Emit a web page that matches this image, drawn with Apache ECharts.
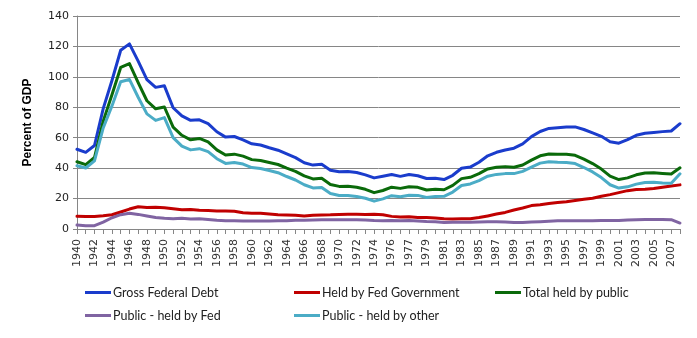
<!DOCTYPE html>
<html>
<head>
<meta charset="utf-8">
<script src="https://cdn.jsdelivr.net/npm/echarts@6/dist/echarts.min.js"></script>
<style>
  html, body { margin: 0; padding: 0; background: #fff; }
  #chart { width: 697px; height: 338px; }
</style>
</head>
<body>
<div id="chart"></div>
<script>
// Fiscal years, including the 1976 transition quarter (TQ)
const years = ['1940','1941','1942','1943','1944','1945','1946','1947','1948','1949',
  '1950','1951','1952','1953','1954','1955','1956','1957','1958','1959',
  '1960','1961','1962','1963','1964','1965','1966','1967','1968','1969',
  '1970','1971','1972','1973','1974','1975','1976','TQ','1977','1978','1979',
  '1980','1981','1982','1983','1984','1985','1986','1987','1988','1989',
  '1990','1991','1992','1993','1994','1995','1996','1997','1998','1999',
  '2000','2001','2002','2003','2004','2005','2006','2007','2008'];

const grossFederalDebt = [52.4,50.4,54.9,79.1,97.6,117.5,121.7,110.3,98.2,93.1,
  94.1,79.7,74.3,71.4,71.8,69.3,63.9,60.4,60.8,58.6,
  56.0,55.2,53.4,51.8,49.3,46.9,43.5,42.0,42.5,38.6,
  37.6,37.8,37.1,35.6,33.6,34.7,35.8,34.6,35.8,35.0,33.2,
  33.4,32.5,35.3,39.9,40.7,43.9,48.1,50.4,51.9,53.1,
  55.9,60.7,64.1,66.1,66.6,67.0,67.1,65.4,63.2,60.9,
  57.3,56.4,58.8,61.6,62.9,63.5,64.0,64.4,69.2];

const heldByFedGovernment = [8.3,8.2,8.2,8.7,9.4,11.2,13.1,14.6,14.1,14.3,
  14.0,13.3,12.7,12.8,12.3,12.1,11.9,11.8,11.6,10.7,
  10.4,10.3,9.8,9.4,9.2,9.0,8.6,9.0,9.2,9.3,
  9.6,9.7,9.7,9.6,9.7,9.4,8.3,7.9,8.0,7.6,7.6,
  7.3,6.7,6.6,6.8,6.7,7.5,8.6,9.8,10.9,12.5,
  13.8,15.4,16.0,16.8,17.4,17.9,18.7,19.5,20.2,21.5,
  22.6,23.9,25.2,26.0,26.1,26.6,27.5,28.2,29.0];

const totalHeldByPublic = [44.2,42.3,47.0,70.9,88.3,106.2,108.7,96.2,84.3,79.0,
  80.2,66.9,61.6,58.6,59.5,57.2,52.0,48.6,49.2,47.9,
  45.6,45.0,43.7,42.4,40.0,37.9,34.9,32.9,33.3,29.3,
  28.0,28.1,27.4,26.1,23.9,25.3,27.5,26.7,27.8,27.4,25.6,
  26.1,25.8,28.7,33.1,34.0,36.4,39.5,40.6,41.0,40.6,
  42.1,45.3,48.1,49.3,49.2,49.1,48.4,45.9,43.0,39.4,
  34.7,32.5,33.6,35.6,36.8,36.9,36.5,36.2,40.2];

const publicHeldByFed = [2.6,2.2,2.2,4.5,7.4,9.4,10.4,9.6,8.6,7.6,
  7.0,6.8,7.1,6.6,6.7,6.3,5.8,5.5,5.5,5.2,
  5.2,5.2,5.2,5.4,5.5,5.7,5.8,5.9,6.0,6.0,
  6.0,6.1,6.0,5.9,5.6,5.5,5.6,5.5,5.6,5.3,4.9,
  4.7,4.3,4.4,4.5,4.4,4.6,4.8,4.7,4.6,4.2,
  4.2,4.6,4.8,5.1,5.4,5.4,5.4,5.5,5.5,5.6,
  5.6,5.6,5.9,6.1,6.2,6.2,6.2,6.1,3.9];

const publicHeldByOther = [41.6,40.1,44.8,66.4,80.9,96.8,98.3,86.6,75.7,71.4,
  73.2,60.1,54.5,52.0,52.8,50.9,46.2,43.1,43.7,42.7,
  40.4,39.8,38.5,37.0,34.5,32.2,29.1,27.0,27.3,23.3,
  22.0,22.0,21.4,20.2,18.3,19.8,21.9,21.2,22.2,22.1,20.7,
  21.4,21.5,24.3,28.6,29.6,31.8,34.7,35.9,36.4,36.4,
  37.9,40.7,43.3,44.2,43.8,43.7,43.0,40.4,37.5,33.8,
  29.1,26.9,27.7,29.5,30.6,30.7,30.3,30.1,36.3];

const seriesDefs = [
  { name: 'Gross Federal Debt',     data: grossFederalDebt,    color: '#1a3ccc' },
  { name: 'Held by Fed Government', data: heldByFedGovernment, color: '#c00000' },
  { name: 'Total held by public',   data: totalHeldByPublic,   color: '#0a6a0a' },
  { name: 'Public - held by Fed',   data: publicHeldByFed,     color: '#8064a2' },
  { name: 'Public - held by other', data: publicHeldByOther,   color: '#4bacc6' }
];

// one legend per entry so each sits in its own column
const legendSlots = [
  { left: 85,  top: 286 },
  { left: 294, top: 286 },
  { left: 495, top: 286 },
  { left: 85,  top: 309 },
  { left: 294, top: 309 }
];

const chart = echarts.init(document.getElementById('chart'), null, { renderer: 'canvas' });

chart.setOption({
  animation: false,
  backgroundColor: '#ffffff',
  grid: { left: 77, right: 17, top: 16, bottom: 109, containLabel: false },
  legend: seriesDefs.map((s, i) => ({
    data: [s.name],
    left: legendSlots[i].left,
    top: legendSlots[i].top,
    icon: 'rect',
    itemWidth: 26,
    itemHeight: 3,
    itemGap: 0,
    padding: 0,
    textStyle: { fontFamily: 'Lato', fontSize: 12.5, color: '#222', padding: [0, 0, 0, -3] }
  })),
  xAxis: {
    type: 'category',
    data: years,
    boundaryGap: false,
    axisLine: { lineStyle: { color: '#868686', width: 1 } },
    axisTick: { show: true, interval: 0, length: 5, lineStyle: { color: '#868686' } },
    axisLabel: {
      interval: 1,
      rotate: 90,
      margin: 10,
      fontFamily: 'DejaVu Sans',
      fontSize: 11,
      color: '#333'
    },
    splitLine: { show: false }
  },
  yAxis: {
    type: 'value',
    min: 0,
    max: 140,
    interval: 20,
    name: 'Percent of GDP',
    nameLocation: 'middle',
    nameGap: 43,
    nameRotate: 90,
    nameTextStyle: { fontFamily: 'Liberation Sans', fontWeight: 'bold', fontSize: 12, color: '#000' },
    axisLine: { show: true, lineStyle: { color: '#868686', width: 1 } },
    axisTick: { show: true, length: 4, lineStyle: { color: '#868686' } },
    axisLabel: { fontFamily: 'DejaVu Sans', fontSize: 11, color: '#222', margin: 8 },
    splitLine: { show: true, lineStyle: { color: '#868686', width: 1 } }
  },
  series: seriesDefs.map(s => ({
    name: s.name,
    type: 'line',
    data: s.data,
    showSymbol: false,
    symbol: 'none',
    color: s.color,
    lineStyle: { width: 3, color: s.color, join: 'round', cap: 'round' }
  }))
});
</script>
</body>
</html>
